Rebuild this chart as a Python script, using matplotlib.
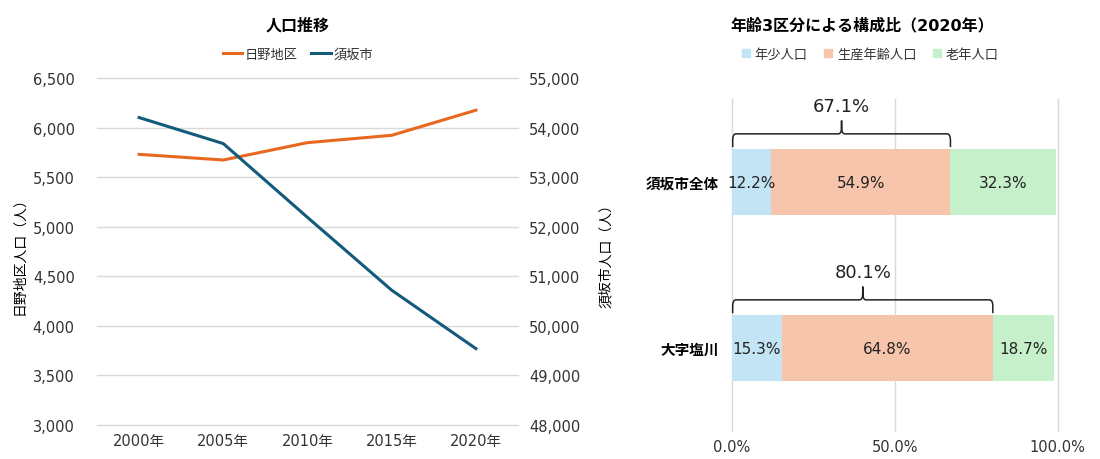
import matplotlib
matplotlib.use('Agg')
import matplotlib.pyplot as plt
from matplotlib.lines import Line2D
from matplotlib.path import Path
from matplotlib.patches import PathPatch
from matplotlib.ticker import FuncFormatter

plt.rcParams['font.family'] = ['DejaVu Sans', 'Noto Sans CJK JP']

# population trend data
years = ['2000年', '2005年', '2010年', '2015年', '2020年']
hino = [5730, 5673, 5848, 5922, 6175]
suzaka = [54202, 53677, 52188, 50719, 49541]

# age composition data (2020)
areas = ['須坂市全体', '大字塩川']
young = [12.2, 15.3]
working = [54.9, 64.8]
old = [32.3, 18.7]
age_labels = ['年少人口', '生産年齢人口', '老年人口']

orange = '#E8681F'
navy = '#145A7D'
c_young = '#C2E4F4'
c_work = '#F7C5AB'
c_old = '#C5F0C9'
grid = '#D9D9D9'
txt = '#333333'

fig = plt.figure(figsize=(11, 4.6), dpi=100)

# ---- left chart: population lines
ax1 = fig.add_axes([97/1100, 1-426/460, 421/1100, 347/460])
ax2 = ax1.twinx()
x = range(len(years))
ax1.plot(x, hino, color=orange, lw=2.2, label='日野地区', zorder=3)
ax2.plot(x, suzaka, color=navy, lw=2.2, label='須坂市', zorder=3)
ax1.set_xlim(-0.5, 4.5)
ax1.set_ylim(3000, 6500)
ax2.set_ylim(48000, 55000)
ax1.set_yticks(range(3000, 6501, 500))
ax2.set_yticks(range(48000, 55001, 1000))
ax1.set_xticks(list(x))
ax1.set_xticklabels(years)
fmt = FuncFormatter(lambda v, p: f'{int(v):,}')
ax1.yaxis.set_major_formatter(fmt)
ax2.yaxis.set_major_formatter(fmt)
ax1.grid(axis='y', color=grid, lw=1.0)
ax1.set_axisbelow(True)
for g in ax1.get_ygridlines():
    g.set_clip_on(False)
for a in (ax1, ax2):
    for s in a.spines.values():
        s.set_visible(False)
    a.tick_params(length=0, labelsize=10.5, colors=txt, pad=8)
ax1.tick_params(axis='y', pad=16)
ax1.tick_params(axis='x', pad=6)
ax1.set_ylabel('日野地区人口（人）', fontsize=10, color='black', labelpad=5)
ax2.set_ylabel('須坂市人口（人）', fontsize=10, color='black', labelpad=13)

fig.text(298/1100, 1-26/460, '人口推移', ha='center', va='center',
         fontsize=11.5, fontweight='bold')
h1 = [Line2D([], [], color=orange, lw=2.2), Line2D([], [], color=navy, lw=2.2)]
fig.legend(h1, ['日野地区', '須坂市'], loc='center', bbox_to_anchor=(298/1100, 1-55/460),
           ncol=2, frameon=False, fontsize=9.5, handlelength=1.5, handletextpad=0.2,
           columnspacing=1.0, labelcolor=txt)

# ---- right chart: stacked horizontal bars
ax3 = fig.add_axes([731.7/1100, 1-432/460, 326/1100, 332/460])
pos = list(range(len(areas)))
left2 = [a + b for a, b in zip(young, working)]
ax3.barh(pos, young, height=0.4, color=c_young, zorder=2)
ax3.barh(pos, working, left=young, height=0.4, color=c_work, zorder=2)
ax3.barh(pos, old, left=left2, height=0.4, color=c_old, zorder=2)
for i in pos:
    segs = [(0, young[i]), (young[i], working[i]), (left2[i], old[i])]
    for l, w in segs:
        ax3.text(l + w/2, i, f'{w:.1f}%', ha='center', va='center', fontsize=11, color='#222222')

ax3.set_xlim(0, 100)
ax3.set_ylim(1.5, -0.5)
ax3.set_xticks([0, 50, 100])
ax3.xaxis.set_major_formatter(FuncFormatter(lambda v, p: f'{v:.1f}%'))
ax3.set_yticks(pos)
ax3.set_yticklabels(areas, fontweight='bold', fontsize=10)
ax3.grid(axis='x', color=grid, lw=1.0)
ax3.set_axisbelow(True)
for g in ax3.get_xgridlines():
    g.set_clip_on(False)
for s in ax3.spines.values():
    s.set_visible(False)
ax3.tick_params(length=0, labelsize=10.5, colors=txt)
ax3.tick_params(axis='y', colors='black', pad=9)
ax3.tick_params(axis='x', pad=6)


def brace(ax, x0, x1, c):
    y_end = c - 0.21
    y_h = c - 0.29
    y_pk = c - 0.37
    dy = 0.04
    rx = 1.0
    xm = (x0 + x1) / 2
    verts = [(x0, y_end), (x0, y_h + dy), (x0, y_h), (x0 + rx, y_h),
             (xm - rx, y_h), (xm, y_h), (xm, y_h - dy), (xm, y_pk),
             (xm, y_h - dy), (xm, y_h), (xm + rx, y_h),
             (x1 - rx, y_h), (x1, y_h), (x1, y_h + dy), (x1, y_end)]
    codes = [Path.MOVETO, Path.LINETO, Path.CURVE3, Path.CURVE3,
             Path.LINETO, Path.CURVE3, Path.CURVE3, Path.LINETO,
             Path.LINETO, Path.CURVE3, Path.CURVE3,
             Path.LINETO, Path.CURVE3, Path.CURVE3, Path.LINETO]
    ax.add_patch(PathPatch(Path(verts, codes), fill=False, ec='#222222', lw=1.1,
                           clip_on=False, zorder=4))
    ax.text(xm, c - 0.46, f'{x1:.1f}%', ha='center', va='center', fontsize=13,
            color='#222222', clip_on=False)


for i in pos:
    brace(ax3, 0.3, left2[i], i)

fig.text(862/1100, 1-26/460, '年齢3区分による構成比（2020年）', ha='center', va='center',
         fontsize=11.5, fontweight='bold')
h2 = [Line2D([], [], marker='s', ls='none', color=c, markersize=6) for c in (c_young, c_work, c_old)]
fig.legend(h2, age_labels, loc='center', bbox_to_anchor=(870/1100, 1-55/460),
           ncol=3, frameon=False, fontsize=9.5, handlelength=0.7, handletextpad=0.3,
           columnspacing=1.2, labelcolor=txt)

fig.savefig('out.png', dpi=100)
